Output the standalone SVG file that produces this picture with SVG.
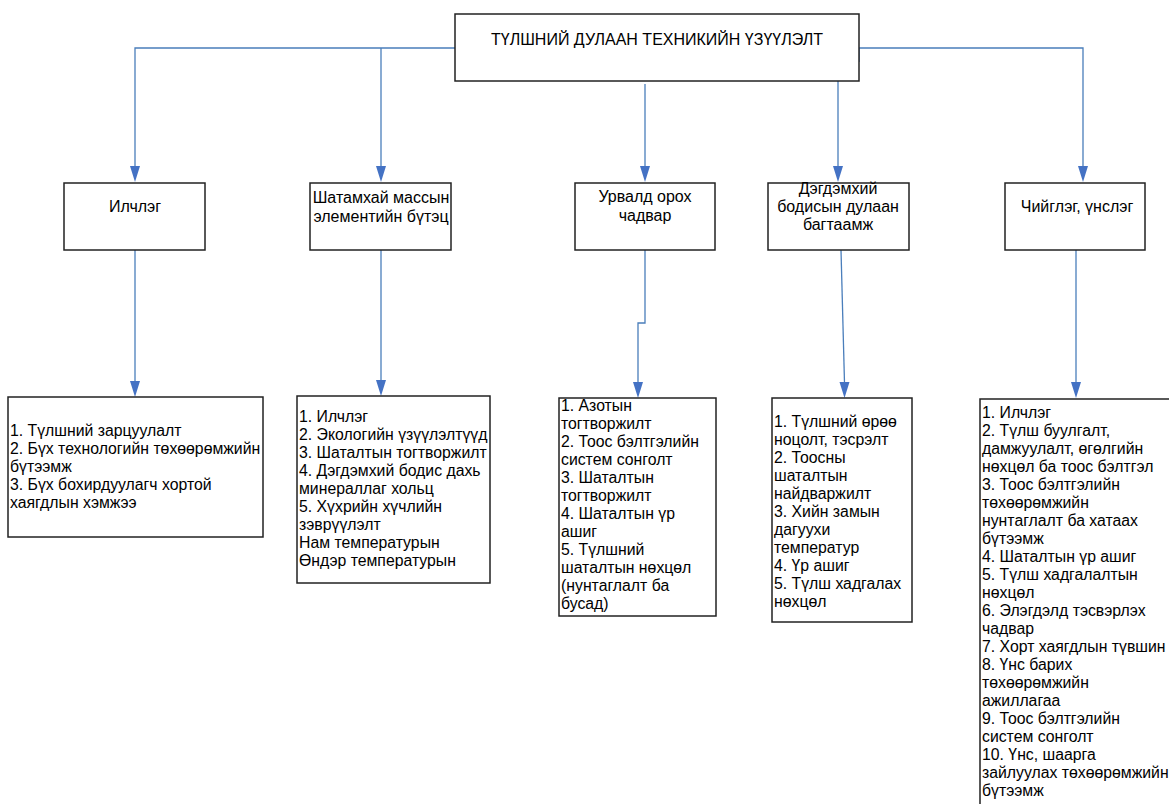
<svg xmlns="http://www.w3.org/2000/svg" width="1169" height="804" viewBox="0 0 1169 804">
<style>
.box{fill:#fff;stroke:#222;stroke-width:1.5}
.t{font-family:"Liberation Sans",Arial,sans-serif;font-size:15.8px;fill:#000}
.h{font-size:16px}
.c{text-anchor:middle}
.ln{fill:none;stroke:#4A7EBB;stroke-width:1.3}
.ah{fill:#4472C4}
</style>
<rect width="1169" height="804" fill="#fff"/>
<g id="connectors">
<path class="ln" d="M455,48 H135 V167"/>
<path class="ln" d="M381,48 V167"/>
<path class="ln" d="M859,62 V48 H1083 V167"/>
<path class="ln" d="M645,84 V167"/>
<path class="ln" d="M838,77 V167"/>
<path class="ln" d="M135,250 V382"/>
<path class="ln" d="M381,250 V381"/>
<path class="ln" d="M645,250 V323 H638 V383"/>
<path class="ln" d="M841,250 L844.5,383"/>
<path class="ln" d="M1076,250 V383"/>
<path class="ah" d="M130,166 L140,166 L135,182 Z"/>
<path class="ah" d="M376,166 L386,166 L381,182 Z"/>
<path class="ah" d="M1078,166 L1088,166 L1083,182 Z"/>
<path class="ah" d="M640,166 L650,166 L645,182 Z"/>
<path class="ah" d="M833,166 L843,166 L838,182 Z"/>
<path class="ah" d="M130,381 L140,381 L135,397 Z"/>
<path class="ah" d="M376,380 L386,380 L381,396 Z"/>
<path class="ah" d="M633,382 L643,382 L638,398 Z"/>
<path class="ah" d="M839.5,382 L849.5,382 L844.5,398 Z"/>
<path class="ah" d="M1071,382 L1081,382 L1076,398 Z"/>
</g>
<g id="root">
<rect class="box" x="455" y="14" width="404" height="67" stroke-width="2"/>
<text class="t h c" x="657" y="45">ТҮЛШНИЙ ДУЛААН ТЕХНИКИЙН ҮЗҮҮЛЭЛТ</text>
</g>
<g id="n1">
<rect class="box" x="64" y="183" width="141" height="67"/>
<text class="t h c" x="135" y="212">Илчлэг</text>
</g>
<g id="n2">
<rect class="box" x="310" y="183" width="141" height="67"/>
<text class="t h c" x="381" y="203">Шатамхай массын</text>
<text class="t h c" x="381" y="222">элементийн бүтэц</text>
</g>
<g id="n3">
<rect class="box" x="575" y="183" width="140" height="67"/>
<text class="t h c" x="645" y="202">Урвалд орох</text>
<text class="t h c" x="645" y="221">чадвар</text>
</g>
<g id="n4">
<rect class="box" x="768" y="183" width="141" height="67"/>
<text class="t h c" x="838" y="194">Дэгдэмхий</text>
<text class="t h c" x="838" y="212">бодисын дулаан</text>
<text class="t h c" x="838" y="230">багтаамж</text>
</g>
<g id="n5">
<rect class="box" x="1005" y="183" width="140" height="67"/>
<text class="t h c" x="1077" y="212">Чийглэг, үнслэг</text>
</g>
<g id="d1">
<rect class="box" x="8" y="397" width="255" height="140"/>
<text class="t" x="10" y="436">1. Түлшний зарцуулалт</text>
<text class="t" x="10" y="454">2. Бүх технологийн төхөөрөмжийн</text>
<text class="t" x="10" y="472">бүтээмж</text>
<text class="t" x="10" y="490">3. Бүх бохирдуулагч хортой</text>
<text class="t" x="10" y="508">хаягдлын хэмжээ</text>
</g>
<g id="d2">
<rect class="box" x="297" y="396" width="193" height="187"/>
<text class="t" x="299" y="422">1. Илчлэг</text>
<text class="t" x="299" y="440">2. Экологийн үзүүлэлтүүд</text>
<text class="t" x="299" y="458">3. Шаталтын тогтворжилт</text>
<text class="t" x="299" y="476">4. Дэгдэмхий бодис дахь</text>
<text class="t" x="299" y="494">минераллаг хольц</text>
<text class="t" x="299" y="512">5. Хүхрийн хүчлийн</text>
<text class="t" x="299" y="530">зэврүүлэлт</text>
<text class="t" x="299" y="548">Нам температурын</text>
<text class="t" x="299" y="566">Өндэр температурын</text>
</g>
<g id="d3">
<rect class="box" x="559" y="398" width="157" height="218"/>
<text class="t" x="561" y="411">1. Азотын</text>
<text class="t" x="561" y="429">тогтворжилт</text>
<text class="t" x="561" y="447">2. Тоос бэлтгэлийн</text>
<text class="t" x="561" y="465">систем сонголт</text>
<text class="t" x="561" y="483">3. Шаталтын</text>
<text class="t" x="561" y="501">тогтворжилт</text>
<text class="t" x="561" y="519">4. Шаталтын үр</text>
<text class="t" x="561" y="537">ашиг</text>
<text class="t" x="561" y="555">5. Түлшний</text>
<text class="t" x="561" y="573">шаталтын нөхцөл</text>
<text class="t" x="561" y="591">(нунтаглалт ба</text>
<text class="t" x="561" y="609">бусад)</text>
</g>
<g id="d4">
<rect class="box" x="772" y="398" width="140" height="224"/>
<text class="t" x="774" y="427">1. Түлшний өрөө</text>
<text class="t" x="774" y="445">ноцолт, тэсрэлт</text>
<text class="t" x="774" y="463">2. Тоосны</text>
<text class="t" x="774" y="481">шаталтын</text>
<text class="t" x="774" y="499">найдваржилт</text>
<text class="t" x="774" y="517">3. Хийн замын</text>
<text class="t" x="774" y="535">дагуухи</text>
<text class="t" x="774" y="553">температур</text>
<text class="t" x="774" y="571">4. Үр ашиг</text>
<text class="t" x="774" y="589">5. Түлш хадгалах</text>
<text class="t" x="774" y="607">нөхцөл</text>
</g>
<g id="d5">
<rect class="box" x="980" y="399" width="200" height="420"/>
<text class="t" x="982" y="418">1. Илчлэг</text>
<text class="t" x="982" y="436">2. Түлш буулгалт,</text>
<text class="t" x="982" y="454">дамжуулалт, өгөлгийн</text>
<text class="t" x="982" y="472">нөхцөл ба тоос бэлтгэл</text>
<text class="t" x="982" y="490">3. Тоос бэлтгэлийн</text>
<text class="t" x="982" y="508">төхөөрөмжийн</text>
<text class="t" x="982" y="526">нунтаглалт ба хатаах</text>
<text class="t" x="982" y="544">бүтээмж</text>
<text class="t" x="982" y="562">4. Шаталтын үр ашиг</text>
<text class="t" x="982" y="580">5. Түлш хадгалалтын</text>
<text class="t" x="982" y="598">нөхцөл</text>
<text class="t" x="982" y="616">6. Элэгдэлд тэсвэрлэх</text>
<text class="t" x="982" y="634">чадвар</text>
<text class="t" x="982" y="652">7. Хорт хаягдлын түвшин</text>
<text class="t" x="982" y="670">8. Үнс барих</text>
<text class="t" x="982" y="688">төхөөрөмжийн</text>
<text class="t" x="982" y="706">ажиллагаа</text>
<text class="t" x="982" y="724">9. Тоос бэлтгэлийн</text>
<text class="t" x="982" y="742">систем сонголт</text>
<text class="t" x="982" y="760">10. Үнс, шаарга</text>
<text class="t" x="982" y="778">зайлуулах төхөөрөмжийн</text>
<text class="t" x="982" y="796">бүтээмж</text>
</g>
</svg>
